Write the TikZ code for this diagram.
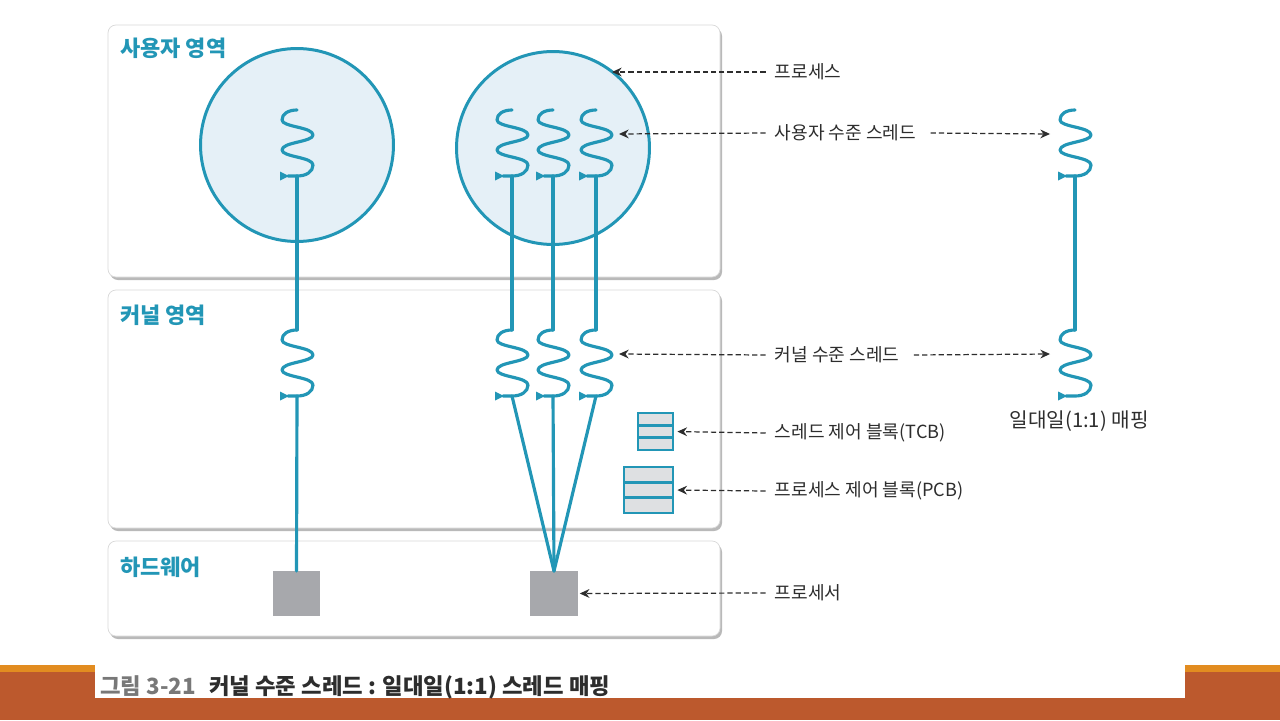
\documentclass[tikz,border=0pt]{standalone}
\usepackage{fontspec}
\setmainfont{Noto Sans CJK KR}
\usetikzlibrary{arrows.meta,calc}
\definecolor{teal1}{RGB}{34,150,182}
\definecolor{cfill}{RGB}{229,240,247}
\definecolor{bgray}{RGB}{222,224,226}
\definecolor{cpugray}{RGB}{167,168,172}
\definecolor{txt}{RGB}{45,45,45}
\definecolor{rust}{RGB}{188,89,45}
\definecolor{orng}{RGB}{226,140,32}
\definecolor{capgray}{RGB}{120,120,120}
\tikzset{
  thr/.style={draw=teal1,line width=1.8pt,line cap=round,line join=round},
  thread/.pic={
    \draw[thr] (0,0) .. controls (-9,0) and (-15,4) .. (-15,10)
      .. controls (-15,17) and (16,17) .. (16,25)
      .. controls (16,32) and (-15,32) .. (-15,40)
      .. controls (-15,47) and (16,47) .. (16,55)
      .. controls (16,62) and (9,66) .. (0,66) -- (-9,66);
    \fill[teal1] (-17,61.5) -- (-17,70.5) -- (-8,66) -- cycle;
    \coordinate (-top) at (0,0);
    \coordinate (-bot) at (0,66);
    \coordinate (-r) at (23,24);
    \coordinate (-l) at (-25,24);
  }
}
\begin{document}
\begin{tikzpicture}[x=0.02cm,y=-0.02cm,
  panel/.style={draw=gray!30,fill=white,rounded corners=0.16cm,line width=0.4pt},
  shadowp/.style={fill=gray!55,rounded corners=0.16cm},
  title/.style={text=teal1,font=\fontsize{12.5}{14}\selectfont\bfseries,anchor=west,inner sep=0pt},
  lbl/.style={text=txt,font=\fontsize{10.3}{12}\selectfont,anchor=west,inner sep=2pt},
  dasharr/.style={draw=txt,line width=0.7pt,dash pattern=on 3pt off 1.7pt,-{Stealth[length=5.5pt,width=5pt,inset=1.8pt]}},
  proc/.style={circle,draw=teal1,fill=cfill,line width=1.7pt,minimum size=3.86cm,inner sep=0pt,outer sep=0pt},
  cpu/.style={fill=cpugray,inner sep=0pt,outer sep=0pt},
  blk/.style={draw=teal1,fill=bgray,line width=1.6pt,inner sep=0pt,outer sep=0pt}
]
\useasboundingbox (0,0) rectangle (1280,720);
\fill[white] (0,0) rectangle (1280,720);

% bottom band
\fill[rust] (0,672) rectangle (1280,720);
\fill[orng] (0,665) rectangle (1280,672);
\fill[white] (95,665) rectangle (1185,698);
\node[anchor=west,inner sep=0pt] (cap) at (100,687)
  {\fontsize{12.7}{14}\selectfont\bfseries{\color{capgray}그림 3-21}\hspace{0.6em}{\color{txt}커널 수준 스레드 : 일대일(1:1) 스레드 매핑}};

% panels
\fill[shadowp] (110,28) rectangle (722,280);
\draw[panel] (108,25) rectangle (720,277);
\fill[shadowp] (110,293) rectangle (722,531);
\draw[panel] (108,290) rectangle (720,528);
\fill[shadowp] (110,544) rectangle (722,639);
\draw[panel] (108,541) rectangle (720,636);

\node[title] (tuser) at (120,48) {사용자 영역};
\node[title] (tkern) at (120,315) {커널 영역};
\node[title] (thw) at (120,567) {하드웨어};

% processes
\node[proc] (c1) at (297,145) {};
\node[proc] (c2) at (553,148) {};

% user threads
\pic (u1) at (297,110) {thread};
\pic (u2a) at (512,110) {thread};
\pic (u2b) at (553,110) {thread};
\pic (u2c) at (596,110) {thread};

% kernel threads
\pic (k1) at (297,330) {thread};
\pic (k2a) at (512,330) {thread};
\pic (k2b) at (553,330) {thread};
\pic (k2c) at (596,330) {thread};

% processors
\node[cpu,minimum width=0.94cm,minimum height=0.9cm] (p1) at (296.5,593.5) {};
\node[cpu,minimum width=0.96cm,minimum height=0.9cm] (p2) at (554,593.5) {};

% control blocks
\node[blk,minimum width=0.7cm,minimum height=0.74cm] (tcb) at (655.5,431.5) {};
\draw[teal1,line width=1.6pt] ($(tcb.north west)!1/3!(tcb.south west)$) -- ($(tcb.north east)!1/3!(tcb.south east)$);
\draw[teal1,line width=1.6pt] ($(tcb.north west)!2/3!(tcb.south west)$) -- ($(tcb.north east)!2/3!(tcb.south east)$);
\node[blk,minimum width=0.98cm,minimum height=0.92cm] (pcb) at (648.5,490) {};
\draw[teal1,line width=1.6pt] ($(pcb.north west)!1/3!(pcb.south west)$) -- ($(pcb.north east)!1/3!(pcb.south east)$);
\draw[teal1,line width=1.6pt] ($(pcb.north west)!2/3!(pcb.south west)$) -- ($(pcb.north east)!2/3!(pcb.south east)$);

% thread connections
\draw[thr] (u1-bot) -- (k1-top);
\draw[thr] (k1-bot) -- (p1.north);
\draw[thr] (u2a-bot) -- (k2a-top);
\draw[thr] (u2b-bot) -- (k2b-top);
\draw[thr] (u2c-bot) -- (k2c-top);
\draw[thr] (k2a-bot) -- (p2.north);
\draw[thr] (k2b-bot) -- (p2.north);
\draw[thr] (k2c-bot) -- (p2.north);

% one-to-one mapping
\pic (mu) at (1075,110) {thread};
\pic (mk) at (1075,330) {thread};
\draw[thr] (mu-bot) -- (mk-top);
\node[text=txt,font=\fontsize{11.5}{13}\selectfont,inner sep=0pt] (lmap) at (1079,421) {일대일(1:1) 매핑};

% labels
\coordinate (procpt) at (612,72);
\node[lbl] (lproc) at (771,72) {프로세스};
\node[lbl] (luser) at (771,133) {사용자 수준 스레드};
\node[lbl] (lkern) at (771,355) {커널 수준 스레드};
\node[lbl] (ltcb) at (771,433) {스레드 제어 블록(TCB)};
\node[lbl] (lpcb) at (771,491) {프로세스 제어 블록(PCB)};
\node[lbl] (lcpu) at (771,593) {프로세서};

\draw[dasharr] ([xshift=-3pt]lproc.west) -- (procpt);
\draw[dasharr] ([xshift=-3pt]luser.west) -- (u2c-r);
\draw[dasharr] ([xshift=6pt]luser.east) -- (mu-l);
\draw[dasharr] ([xshift=-3pt]lkern.west) -- (k2c-r);
\draw[dasharr] ([xshift=6pt]lkern.east) -- (mk-l);
\draw[dasharr,shorten >=2.5pt] ([xshift=-3pt]ltcb.west) -- (tcb.east);
\draw[dasharr,shorten >=2.5pt] ([xshift=-3pt]lpcb.west) -- (pcb.east);
\draw[dasharr,shorten >=1pt] ([xshift=-3pt]lcpu.west) -- (p2.east);
\end{tikzpicture}
\end{document}
